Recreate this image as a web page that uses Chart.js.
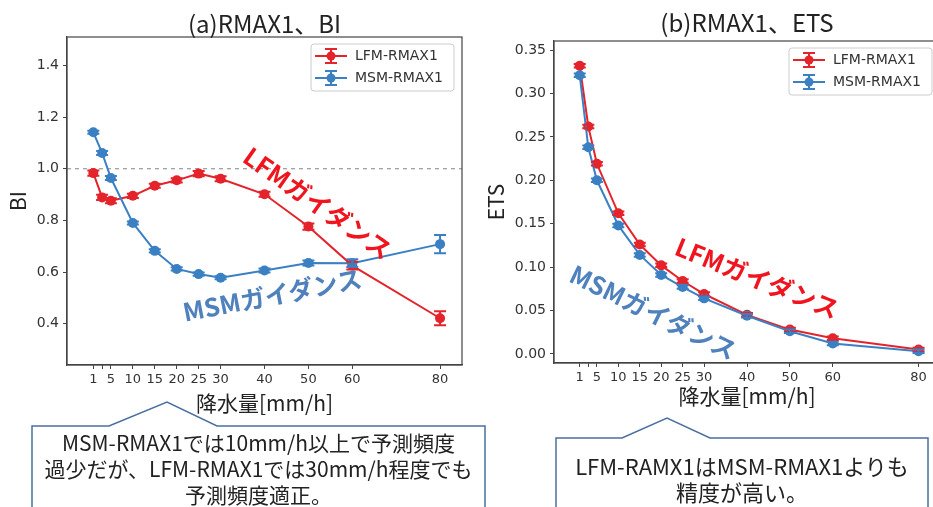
<!DOCTYPE html>
<html>
<head>
<meta charset="utf-8">
<script src="https://cdn.jsdelivr.net/npm/chart.js@4.4.0/dist/chart.umd.min.js"></script>
<style>
    body { margin: 0; width: 933px; height: 507px; overflow: hidden; position: relative; background: #fff;
           font-family: "Noto Sans CJK JP", sans-serif; }
    canvas { position: absolute; top: 0; }
    #biChart { left: 0; }
    #etsChart { left: 480px; }
    .tag { position: absolute; white-space: nowrap; font-weight: bold; line-height: 1; transform-origin: 0 50%; font-size: 25px; }
    .red { color: #f0141e; }
    .blue { color: #4f81bd; }
    .note { position: absolute; text-align: center; color: #222; font-size: 21px; line-height: 26px; white-space: nowrap; }
    svg { position: absolute; left: 0; top: 0; }
</style>
</head>
<body>
<canvas id="biChart" width="480" height="420"></canvas>
<canvas id="etsChart" width="465" height="420"></canvas>

<div class="tag red" style="left:247px;top:140px;transform:rotate(35deg)">LFMガイダンス</div>
<div class="tag blue" style="left:183px;top:299px;transform:rotate(-11deg)">MSMガイダンス</div>
<div class="tag red" style="left:677px;top:232px;transform:rotate(22deg)">LFMガイダンス</div>
<div class="tag blue" style="left:572px;top:259px;transform:rotate(26deg)">MSMガイダンス</div>

<svg width="933" height="507">
    <path d="M32,510 L32,426 L109,426 L167,402 L217,426 L485,426 L485,510" fill="#fff" stroke="#4a6f9e" stroke-width="1.5"/>
    <path d="M556,510 L556,438 L622,438 L667,418 L710,438 L928,438 L928,510" fill="#fff" stroke="#4a6f9e" stroke-width="1.5"/>
</svg>
<div class="note" style="left:32px;width:453px;top:429px">MSM-RMAX1では10mm/h以上で予測頻度<br>過少だが、LFM-RMAX1では30mm/h程度でも<br>予測頻度適正。</div>
<div class="note" style="left:556px;width:372px;top:452px;font-size:22px">LFM-RAMX1はMSM-RMAX1よりも<br>精度が高い。</div>

<script>
// 降水量の閾値 [mm/h]
var rain = [1, 3, 5, 10, 15, 20, 25, 30, 40, 50, 60, 80];

// (a) BI
var biLfm    = [0.983, 0.889, 0.876, 0.895, 0.934, 0.955, 0.981, 0.961, 0.901, 0.776, 0.625, 0.421];
var biLfmErr = [0.010, 0.010, 0.010, 0.008, 0.008, 0.008, 0.010, 0.010, 0.010, 0.012, 0.015, 0.027];
var biMsm    = [1.141, 1.061, 0.964, 0.790, 0.682, 0.612, 0.592, 0.578, 0.606, 0.635, 0.634, 0.708];
var biMsmErr = [0.006, 0.008, 0.008, 0.006, 0.006, 0.006, 0.006, 0.006, 0.008, 0.010, 0.015, 0.035];
var biTicks  = [0.4, 0.6, 0.8, 1.0, 1.2, 1.4];
var biRef    = 1.0;

// (b) ETS
var etsLfm    = [0.332, 0.262, 0.219, 0.162, 0.126, 0.102, 0.084, 0.069, 0.045, 0.028, 0.018, 0.005];
var etsLfmErr = [0.002, 0.002, 0.002, 0.002, 0.002, 0.002, 0.002, 0.002, 0.002, 0.002, 0.002, 0.002];
var etsMsm    = [0.321, 0.238, 0.200, 0.148, 0.114, 0.091, 0.077, 0.064, 0.044, 0.026, 0.012, 0.003];
var etsMsmErr = [0.002, 0.002, 0.002, 0.002, 0.002, 0.002, 0.002, 0.002, 0.002, 0.002, 0.002, 0.002];
var etsTicks  = [0, 0.05, 0.10, 0.15, 0.20, 0.25, 0.30, 0.35];

var RED = '#e4232b';
var BLUE = '#3a80c3';
var AXIS = '#444';
var TICK_FONT = {family: 'DejaVu Sans', size: 13};
var LABEL_FONT = {family: 'Noto Sans CJK JP', size: 21};

function points(ys) {
    return rain.map(function (x, i) { return {x: x, y: ys[i]}; });
}

function series(label, ys, errs, color, order) {
    return {
        label: label,
        data: points(ys),
        errors: errs,
        borderColor: color,
        backgroundColor: color,
        borderWidth: 2,
        pointRadius: 5,
        pointHoverRadius: 5,
        pointBorderWidth: 0,
        order: order
    };
}

// error bars, frame, title, legend, reference line
var decor = {
    id: 'decor',
    beforeDatasetsDraw: function (chart, args, opts) {
        var ctx = chart.ctx, a = chart.chartArea;
        if (opts.refLine !== undefined) {
            var y = chart.scales.y.getPixelForValue(opts.refLine);
            ctx.save();
            ctx.strokeStyle = '#999';
            ctx.lineWidth = 1.2;
            ctx.setLineDash([4, 4]);
            ctx.beginPath();
            ctx.moveTo(a.left, y);
            ctx.lineTo(a.right, y);
            ctx.stroke();
            ctx.restore();
        }
    },
    afterDatasetsDraw: function (chart, args, opts) {
        var ctx = chart.ctx, a = chart.chartArea;
        var xs = chart.scales.x, ys = chart.scales.y;

        chart.data.datasets.forEach(function (ds) {
            ctx.save();
            ctx.strokeStyle = ds.borderColor;
            ctx.lineWidth = 2;
            ds.data.forEach(function (p, j) {
                var px = xs.getPixelForValue(p.x);
                var t = ys.getPixelForValue(p.y + ds.errors[j]);
                var b = ys.getPixelForValue(p.y - ds.errors[j]);
                ctx.beginPath();
                ctx.moveTo(px, t); ctx.lineTo(px, b);
                ctx.moveTo(px - 6, t); ctx.lineTo(px + 6, t);
                ctx.moveTo(px - 6, b); ctx.lineTo(px + 6, b);
                ctx.stroke();
            });
            ctx.restore();
        });

        // frame
        ctx.save();
        ctx.strokeStyle = AXIS;
        ctx.lineWidth = 1.2;
        ctx.strokeRect(a.left, a.top, a.right - a.left, a.bottom - a.top);

        // title
        ctx.fillStyle = '#222';
        ctx.font = '24px "Noto Sans CJK JP"';
        ctx.textAlign = 'center';
        ctx.textBaseline = 'middle';
        ctx.fillText(opts.title, (a.left + a.right) / 2, opts.titleY);

        // legend
        var bw = 143, bh = 47;
        var bx = a.right - 8 - bw, by = a.top + 7;
        ctx.fillStyle = 'rgba(255,255,255,0.85)';
        ctx.strokeStyle = '#ccc';
        ctx.lineWidth = 1;
        ctx.beginPath();
        ctx.roundRect(bx, by, bw, bh, 3);
        ctx.fill();
        ctx.stroke();
        chart.data.datasets.forEach(function (ds, i) {
            var ly = by + 12 + i * 22;
            var mx = bx + 20;
            ctx.strokeStyle = ds.borderColor;
            ctx.fillStyle = ds.borderColor;
            ctx.lineWidth = 2;
            ctx.beginPath();
            ctx.moveTo(bx + 4, ly); ctx.lineTo(bx + 36, ly);
            ctx.moveTo(mx, ly - 7); ctx.lineTo(mx, ly + 7);
            ctx.moveTo(mx - 6, ly - 7); ctx.lineTo(mx + 6, ly - 7);
            ctx.moveTo(mx - 6, ly + 7); ctx.lineTo(mx + 6, ly + 7);
            ctx.stroke();
            ctx.beginPath();
            ctx.arc(mx, ly, 4.5, 0, Math.PI * 2);
            ctx.fill();
            ctx.fillStyle = '#333';
            ctx.font = '14px "DejaVu Sans"';
            ctx.textAlign = 'left';
            ctx.fillText(ds.label, bx + 44, ly);
        });
        ctx.restore();
    }
};

function makeChart(id, cfg) {
    var ctx = document.getElementById(id).getContext('2d');
    return new Chart(ctx, {
        type: 'line',
        data: {datasets: cfg.datasets},
        plugins: [decor],
        options: {
            responsive: false,
            animation: false,
            events: [],
            layout: {padding: {top: cfg.top, right: cfg.right, left: 0, bottom: 0}},
            plugins: {
                legend: {display: false},
                tooltip: {enabled: false},
                decor: {title: cfg.title, titleY: cfg.titleY, refLine: cfg.refLine}
            },
            scales: {
                x: {
                    type: 'linear',
                    min: -5,
                    max: 85,
                    afterBuildTicks: function (s) { s.ticks = rain.map(function (v) { return {value: v}; }); },
                    afterFit: function (s) { s.height = cfg.xHeight; },
                    ticks: {
                        autoSkip: false, maxRotation: 0, minRotation: 0,
                        font: TICK_FONT, color: '#333', padding: 3,
                        callback: function (v) { return v === 3 ? '' : v; }
                    },
                    grid: {drawOnChartArea: false, tickLength: 4, color: AXIS},
                    border: {color: AXIS, width: 1.2},
                    title: {display: true, text: '降水量[mm/h]', font: LABEL_FONT, color: '#222',
                            padding: {top: 0, bottom: cfg.xTitlePad}}
                },
                y: {
                    min: cfg.yMin,
                    max: cfg.yMax,
                    afterBuildTicks: function (s) { s.ticks = cfg.yTicks.map(function (v) { return {value: v}; }); },
                    afterFit: function (s) { s.width = cfg.yWidth; },
                    ticks: {
                        font: {family: 'DejaVu Sans', size: 14}, color: '#333', padding: 4,
                        callback: function (v) { return v.toFixed(cfg.digits); }
                    },
                    grid: {drawOnChartArea: false, tickLength: 4, color: AXIS},
                    border: {color: AXIS, width: 1.2},
                    title: {display: true, text: cfg.yLabel, font: LABEL_FONT, color: '#222',
                            padding: {top: cfg.yTitlePad, bottom: 0}}
                }
            }
        }
    });
}

makeChart('biChart', {
    datasets: [
        series('LFM-RMAX1', biLfm, biLfmErr, RED, 1),
        series('MSM-RMAX1', biMsm, biMsmErr, BLUE, 0)
    ],
    title: '(a)RMAX1、BI', titleY: 24, refLine: biRef,
    top: 37, right: 18, xHeight: 55, xTitlePad: 4, yWidth: 67, yTitlePad: 5,
    yMin: 0.24, yMax: 1.51, yTicks: biTicks, digits: 1, yLabel: 'BI'
});

makeChart('etsChart', {
    datasets: [
        series('LFM-RMAX1', etsLfm, etsLfmErr, RED, 1),
        series('MSM-RMAX1', etsMsm, etsMsmErr, BLUE, 0)
    ],
    title: '(b)RMAX1、ETS', titleY: 23,
    top: 41, right: 5, xHeight: 57, xTitlePad: 11, yWidth: 74, yTitlePad: 3,
    yMin: -0.0105, yMax: 0.3605, yTicks: etsTicks, digits: 2, yLabel: 'ETS'
});
</script>
</body>
</html>
